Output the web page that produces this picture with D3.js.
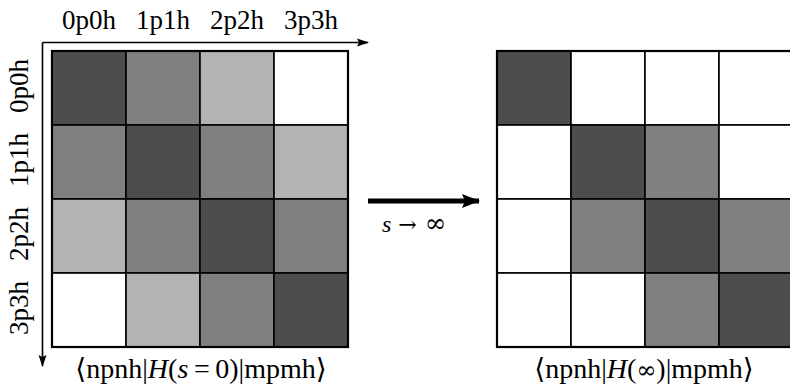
<!DOCTYPE html>
<html>
<head>
<meta charset="utf-8">
<script src="https://cdn.jsdelivr.net/npm/d3@7"></script>
<style>
  body { margin: 0; background: #fff; }
  svg text { font-family: "Liberation Serif", "DejaVu Serif", serif; fill: #000; }
</style>
</head>
<body>
<div id="svg-holder"></div>
<script>
var width = 790;
var height = 392;

// basis states
var states = ["0p0h", "1p1h", "2p2h", "3p3h"];

// shade level of each matrix element (0 = white ... 3 = darkest)
var before = [
    [3, 2, 1, 0],
    [2, 3, 2, 1],
    [1, 2, 3, 2],
    [0, 1, 2, 3]
];
var after = [
    [3, 0, 0, 0],
    [0, 3, 2, 0],
    [0, 2, 3, 2],
    [0, 0, 2, 3]
];

var shades = [0, 1, 2, 3];
var greys = ["#ffffff", "#b3b3b3", "#808080", "#4d4d4d"];

var svg = d3.select('#svg-holder').append('svg')
            .attr("width", width)
            .attr("height", height);

var defs = svg.append("defs");
defs.append("marker")
    .attr("id", "tip")
    .attr("viewBox", "0 0 12 10")
    .attr("refX", 11).attr("refY", 5)
    .attr("markerWidth", 12).attr("markerHeight", 10)
    .attr("markerUnits", "userSpaceOnUse")
    .attr("orient", "auto")
    .append("path").attr("d", "M0,1 L12,5 L0,9 L2,5 Z").attr("fill", "#000");
defs.append("marker")
    .attr("id", "bigtip")
    .attr("viewBox", "0 0 18 14")
    .attr("refX", 17).attr("refY", 7)
    .attr("markerWidth", 18).attr("markerHeight", 14)
    .attr("markerUnits", "userSpaceOnUse")
    .attr("orient", "auto")
    .append("path").attr("d", "M0,0 L18,7 L0,14 L3,7 Z").attr("fill", "#000");

var shade = d3.scaleOrdinal().domain(shades).range(greys);

var cell = 74;
var y = d3.scaleBand().domain(states).range([51, 51 + 4 * cell]);
var xLeft = d3.scaleBand().domain(states).range([52, 52 + 4 * cell]);
var xRight = d3.scaleBand().domain(states).range([497, 497 + 4 * cell]);

drawMatrix(before, xLeft);
drawMatrix(after, xRight);

function drawMatrix(m, x) {
    var cells = [];
    m.forEach(function(row, i) {
        row.forEach(function(v, j) {
            cells.push({ r: states[i], c: states[j], v: v });
        });
    });
    var g = svg.append("g");
    g.selectAll("rect.cell")
        .data(cells)
        .enter().append("rect")
        .attr("class", "cell")
        .attr("x", function(d) { return x(d.c); })
        .attr("y", function(d) { return y(d.r); })
        .attr("width", x.bandwidth())
        .attr("height", y.bandwidth())
        .attr("fill", function(d) { return shade(d.v); })
        .attr("stroke", "#000")
        .attr("stroke-width", 1.6);
    g.append("rect")
        .attr("x", x.range()[0])
        .attr("y", y.range()[0])
        .attr("width", x.range()[1] - x.range()[0])
        .attr("height", y.range()[1] - y.range()[0])
        .attr("fill", "none")
        .attr("stroke", "#000")
        .attr("stroke-width", 2.2);
}

// axis arrows around the left matrix
svg.append("line")
    .attr("x1", 42.5).attr("y1", 42.5).attr("x2", 368).attr("y2", 42.5)
    .attr("stroke", "#000").attr("stroke-width", 1.6)
    .attr("marker-end", "url(#tip)");
svg.append("line")
    .attr("x1", 42.5).attr("y1", 42.5).attr("x2", 42.5).attr("y2", 366)
    .attr("stroke", "#000").attr("stroke-width", 1.6)
    .attr("marker-end", "url(#tip)");

// column labels
svg.selectAll("text.col")
    .data(states)
    .enter().append("text")
    .attr("class", "col")
    .attr("x", function(d) { return xLeft(d) + xLeft.bandwidth() / 2; })
    .attr("y", 29)
    .attr("text-anchor", "middle")
    .attr("font-size", 27)
    .text(function(d) { return d; });

// row labels
svg.selectAll("text.row")
    .data(states)
    .enter().append("text")
    .attr("class", "row")
    .attr("transform", function(d) {
        return "translate(28," + (y(d) + y.bandwidth() / 2 - 2) + ") rotate(-90)";
    })
    .attr("text-anchor", "middle")
    .attr("font-size", 27)
    .text(function(d) { return d; });

// s -> infinity arrow
svg.append("line")
    .attr("x1", 368).attr("y1", 201).attr("x2", 479).attr("y2", 201)
    .attr("stroke", "#000").attr("stroke-width", 5)
    .attr("marker-end", "url(#bigtip)");

var flow = svg.append("text")
    .attr("x", 382).attr("y", 232)
    .attr("font-size", 24);
flow.append("tspan").attr("font-style", "italic").text("s");
flow.append("tspan").attr("font-family", "DejaVu Serif").attr("font-size", 22)
    .attr("dx", 7).text("\u2192");
flow.append("tspan").attr("font-family", "DejaVu Serif").attr("font-size", 26)
    .attr("dx", 8).text("\u221E");

// matrix captions: [text, italic, font]
function caption(cx, parts) {
    var t = svg.append("text")
        .attr("x", cx).attr("y", 378)
        .attr("text-anchor", "middle")
        .attr("font-size", 28);
    parts.forEach(function(p) {
        var s = t.append("tspan")
            .attr("font-style", p[1] ? "italic" : "normal")
            .text(p[0]);
        if (p[2]) s.attr("font-family", p[2]).attr("font-size", 24);
    });
}
caption(201, [["\u27E8npnh|"], ["H", true], ["("], ["s", true], ["\u2009=\u20090)|mpmh\u27E9"]]);
caption(644, [["\u27E8npnh|"], ["H", true], ["("], ["\u221E", false, "DejaVu Serif"], [")|mpmh\u27E9"]]);
</script>
</body>
</html>
